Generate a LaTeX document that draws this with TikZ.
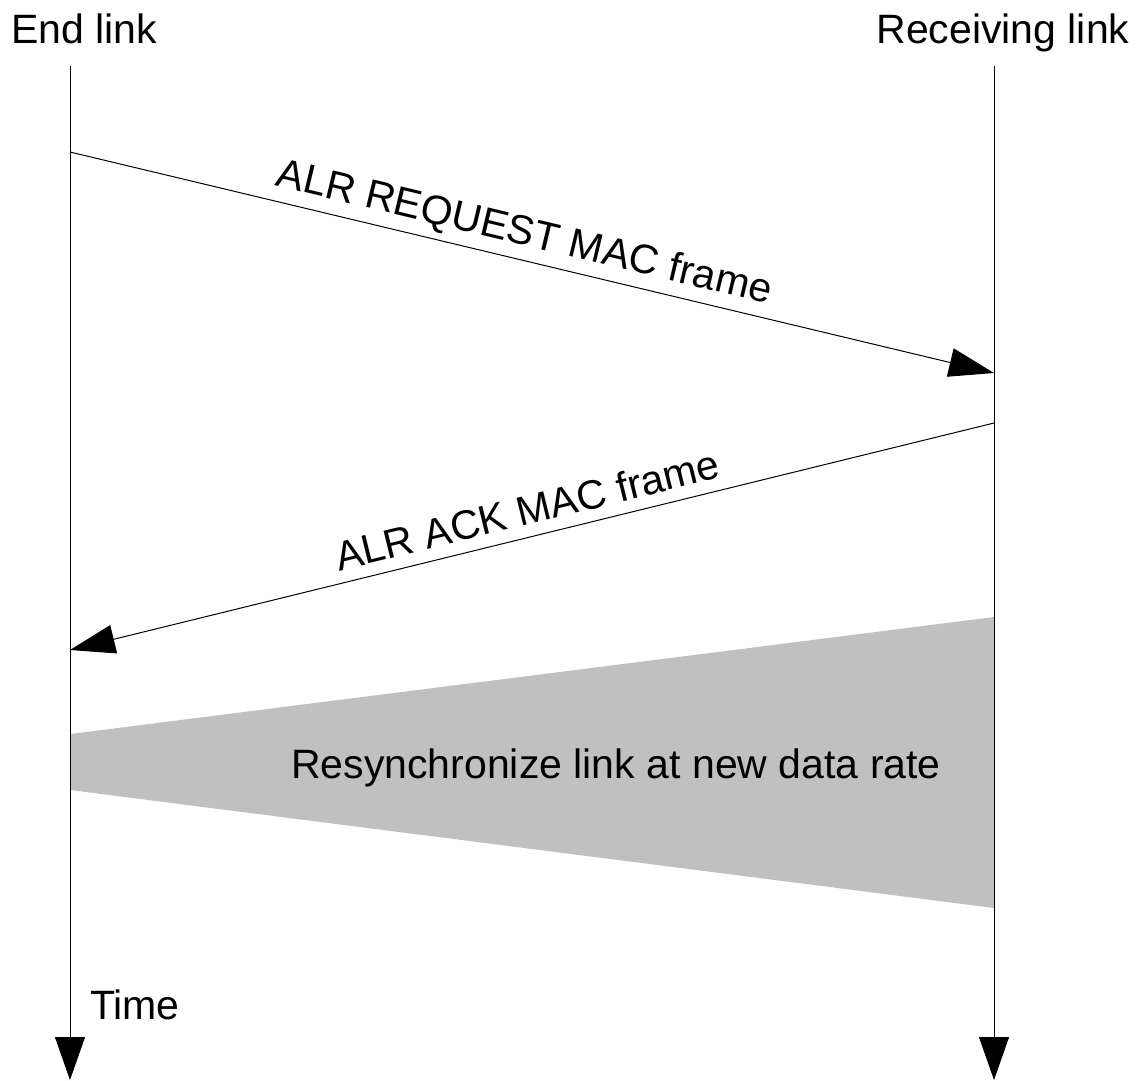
\documentclass[tikz,border=0pt]{standalone}
\usepackage{fontspec}
\setmainfont{Liberation Sans}
\usetikzlibrary{arrows.meta}
\begin{document}
\begin{tikzpicture}[x=1pt,y=-1pt,
  lbl/.style={font=\fontsize{41}{48}\selectfont, inner sep=0pt},
  msg/.style={line width=1pt, -{Triangle[length=45pt,width=29pt]}},
  life/.style={line width=1pt, -{Triangle[length=43pt,width=30pt]}}]
\useasboundingbox (0,0) rectangle (1140,1080);
% grey region
\fill[fill={rgb,255:red,192;green,192;blue,192}] (70,734) -- (994,617) -- (994,908) -- (70,790) -- cycle;
\node[lbl] (resync) at (616,768) {Resynchronize link at new data rate};
% lifelines
\node[lbl, anchor=base] (endlbl) at (84,43) {End link};
\node[lbl, anchor=base] (reclbl) at (1003,43) {Receiving link};
\coordinate (ltop) at (70,66);
\coordinate (lbot) at (70,1080);
\coordinate (rtop) at (994,66);
\coordinate (rbot) at (994,1080);
\draw[life] (ltop) -- (lbot);
\draw[life] (rtop) -- (rbot);
\node[lbl, anchor=base west] (time) at (90,1019) {Time};
% messages
\coordinate (m1s) at (70,152);
\coordinate (m1e) at (994,373);
\coordinate (m2s) at (994,423);
\coordinate (m2e) at (70,650);
\draw[msg] (m1s) -- (m1e);
\draw[msg] (m2s) -- (m2e);
\node[lbl, rotate=-13.45] (req) at (524,234) {ALR REQUEST MAC frame};
\node[lbl, rotate=13.8] (ack) at (527,510) {ALR ACK MAC frame};
\end{tikzpicture}
\end{document}
